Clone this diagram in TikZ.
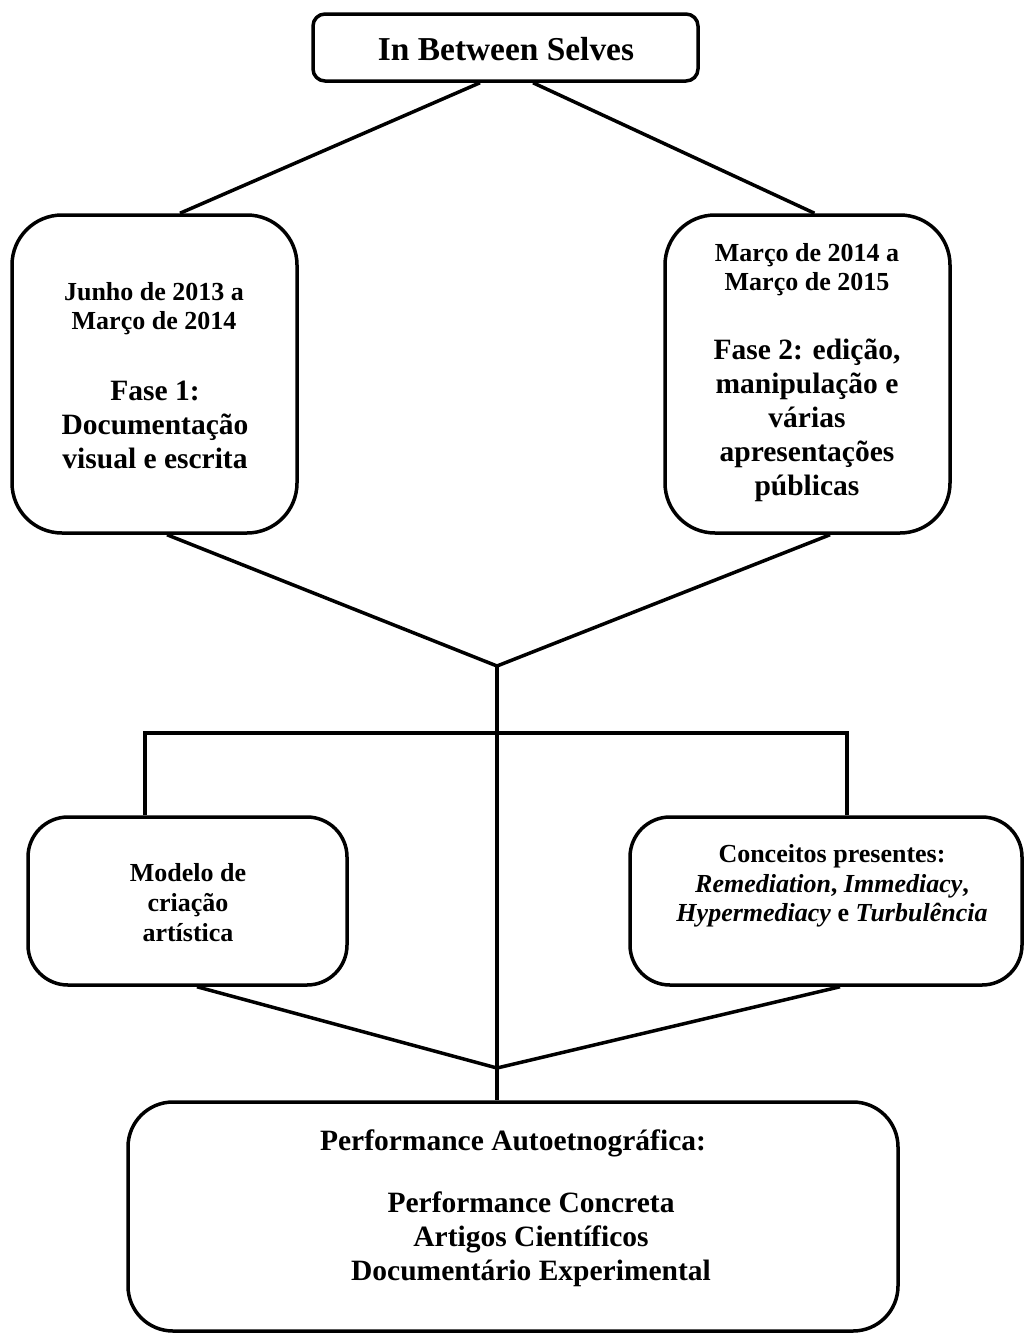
\documentclass[tikz,border=0pt]{standalone}
\usepackage{fontspec}
\setmainfont{Liberation Serif}
\begin{document}
\begin{tikzpicture}[x=1pt,y=-1pt,
  box/.style={draw, line width=3.5pt, rounded corners=#1, inner sep=0pt},
  link/.style={line width=3.5pt},
  txt/.style={align=center, inner sep=0pt},
  fsmall/.style={font=\bfseries\fontsize{26}{29.5}\selectfont},
  flarge/.style={font=\bfseries\fontsize{29.5}{34}\selectfont}]
\useasboundingbox (0,0) rectangle (1024,1333);

% boxes
\node[box=12pt, minimum width=385pt, minimum height=67pt] (top) at (505.5,47.5) {};
\node[box=50pt, minimum width=285pt, minimum height=318pt] (lbox) at (154.5,374) {};
\node[box=50pt, minimum width=285pt, minimum height=318pt] (rbox) at (807.5,374) {};
\node[box=40pt, minimum width=319pt, minimum height=168pt] (mlbox) at (187.5,901) {};
\node[box=40pt, minimum width=392pt, minimum height=168pt] (mrbox) at (826,901) {};
\node[box=45pt, minimum width=770pt, minimum height=229pt] (bot) at (513,1216.5) {};

% texts
\node[txt, font=\bfseries\fontsize{33.4}{38}\selectfont] (toptxt) at (506,49) {In Between Selves};
\node[txt, fsmall] (ldate) at (154,308.5) {Junho de 2013 a\\Março de 2014};
\node[txt, flarge] (lphase) at (155,424.5) {Fase 1:\\Documentação\\visual e escrita};
\node[txt, fsmall] (rdate) at (807,269.5) {Março de 2014 a\\Março de 2015};
\node[txt, flarge] (rphase) at (807,420.5) {Fase 2: edição,\\manipulação e\\várias\\apresentações\\públicas};
\node[txt, fsmall, font=\bfseries\fontsize{26}{30}\selectfont] (mltxt) at (188,903) {Modelo de\\criação\\artística};
\node[txt, fsmall] (mrtxt) at (832,886) {Conceitos presentes:\\\textit{Remediation}, \textit{Immediacy},\\\textit{Hypermediacy} e \textit{Turbulência}};
\node[txt, flarge] (bhead) at (513,1143) {Performance Autoetnográfica:};
\node[txt, flarge] (blist) at (531,1239.5) {Performance Concreta\\Artigos Científicos\\Documentário Experimental};

% connectors
\coordinate (j1) at (497,666);
\coordinate (bar) at (497,733);
\coordinate (j2) at (497,1068);
\draw[link] ([xshift=-25.5pt]top.south) -- ([xshift=25.5pt]lbox.north);
\draw[link] ([xshift=27.5pt]top.south) -- ([xshift=7pt]rbox.north);
\draw[link] ([xshift=12.5pt]lbox.south) -- (j1) -- ([xshift=22.5pt]rbox.south);
\draw[link] (j1) -- (bot.north -| j1);
\draw[link] ([xshift=-42.5pt]mlbox.north) |- (bar) -| ([xshift=21pt]mrbox.north);
\draw[link] ([xshift=9.5pt]mlbox.south) -- (j2) -- ([xshift=14pt]mrbox.south);
\end{tikzpicture}
\end{document}
